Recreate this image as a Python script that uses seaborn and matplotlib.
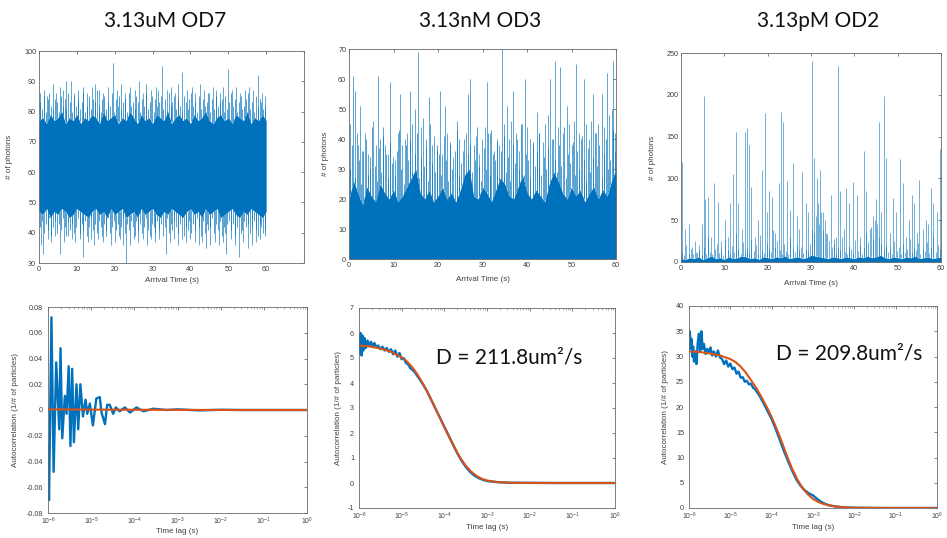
import numpy as np
import pandas as pd
import matplotlib
matplotlib.use("Agg")
import matplotlib.pyplot as plt
import seaborn as sns
from matplotlib.ticker import FixedLocator, NullFormatter

# ---------------- text ----------------
titles = ["3.13uM OD7", "3.13nM OD3", "3.13pM OD2"]
d_labels = ["D = 211.8um\u00b2/s", "D = 209.8um\u00b2/s"]
top_xlabel = "Arrival Time (s)"
top_ylabel = "# of photons"
bot_xlabel = "Time lag (s)"
bot_ylabel = "Autocorrelation (1/# of particles)"
lag_tick_exp = [-6, -5, -4, -3, -2, -1, 0]

# ---------------- top row: photon traces ----------------
core_t = list(range(0, 61))            # 1 s resolution for the dense core of each trace
fringe_t = np.arange(0.25, 60, 0.5)     # 0.5 s resolution for the fringe of each trace

# 3.13uM OD7
tl_core_hi = [77, 78, 76, 79, 77, 78, 80, 76, 78, 77, 79, 76, 78, 77, 79, 78, 76, 80, 77, 78,
              79, 76, 78, 77, 80, 78, 76, 79, 77, 78, 76, 79, 78, 77, 80, 76, 78, 79, 77, 78,
              76, 79, 77, 78, 80, 77, 76, 78, 79, 77, 78, 76, 79, 78, 77, 80, 76, 78, 77, 79, 77]
tl_core_lo = [47, 46, 48, 45, 47, 46, 48, 47, 45, 46, 48, 47, 46, 45, 47, 48, 46, 47, 45, 48,
              46, 47, 48, 45, 46, 47, 45, 48, 46, 47, 48, 46, 45, 47, 46, 48, 47, 46, 45, 47,
              48, 46, 47, 45, 48, 46, 47, 48, 45, 46, 47, 48, 46, 45, 47, 46, 48, 47, 46, 45, 47]
tl_fringe_hi = [83, 81, 85, 80, 84, 86, 82, 81, 84, 83, 80, 85, 82, 84, 81, 86, 83, 80, 85, 82,
                84, 81, 83, 86, 80, 82, 85, 81, 84, 83, 87, 82, 80, 84, 85, 81, 83, 82, 86, 80,
                84, 82, 85, 81, 83, 84, 80, 86, 82, 83, 81, 85, 83, 80, 84, 82, 86, 81, 83, 85,
                80, 84, 82, 83, 85, 81, 84, 80, 86, 82, 83, 85, 81, 84, 82, 80, 85, 83, 81, 84,
                86, 82, 83, 80, 85, 81, 84, 82, 83, 86, 80, 84, 81, 85, 82, 83, 84, 80, 85, 81,
                83, 86, 82, 84, 80, 83, 85, 81, 82, 84, 86, 81, 83, 80, 85, 82, 84, 83, 81, 82]
tl_fringe_lo = [42, 44, 40, 43, 41, 45, 39, 42, 44, 40, 43, 41, 45, 42, 39, 44, 41, 43, 40, 42,
                45, 40, 43, 41, 44, 39, 42, 45, 41, 43, 40, 44, 42, 39, 43, 41, 45, 40, 42, 44,
                41, 43, 39, 42, 45, 40, 43, 41, 44, 42, 39, 44, 41, 43, 40, 42, 45, 41, 39, 43,
                42, 40, 44, 41, 43, 39, 42, 45, 40, 43, 41, 44, 42, 40, 43, 45, 39, 42, 41, 44,
                40, 43, 41, 45, 42, 39, 44, 40, 43, 41, 42, 45, 40, 43, 41, 44, 39, 42, 40, 43,
                44, 41, 43, 39, 42, 45, 40, 41, 44, 42, 43, 40, 42, 44, 41, 39, 43, 42, 40, 41]
tl_up_t = [0.3, 1.2, 2.1, 3.7, 4.5, 5.6, 6.4, 7.2, 8.5, 9.3, 10.4, 11.6, 12.8, 13.9, 14.7,
           15.8, 17.0, 18.2, 19.5, 20.6, 21.7, 22.8, 24.1, 25.3, 26.4, 27.5, 28.3, 29.6,
           30.8, 31.5, 32.5, 33.7, 34.8, 35.9, 36.7, 37.9, 39.0, 40.3, 41.2, 42.4, 43.6,
           44.8, 45.9, 46.8, 47.7, 48.6, 49.9, 51.1, 52.0, 53.2, 54.3, 55.4, 56.5, 57.8,
           58.9, 59.7]
tl_up_v = [86, 87, 85, 89, 86, 88, 87, 90, 90, 86, 87, 88, 86, 88, 89,
           87, 86, 88, 96, 87, 89, 86, 88, 87, 90, 86, 89, 87,
           88, 87, 95, 87, 88, 86, 89, 93, 87, 88, 86, 89, 87,
           86, 88, 87, 86, 88, 94, 87, 88, 86, 87, 88, 87, 92,
           86, 85]
tl_dn_t = [0.4, 1.0, 2.3, 3.2, 4.1, 5.5, 6.6, 7.7, 8.6, 9.6, 10.7, 11.6, 12.9, 13.8, 14.6,
           15.6, 16.9, 17.8, 18.9, 20.1, 21.3, 22.2, 23.0, 24.0, 25.2, 26.1, 27.4, 28.6,
           29.5, 30.7, 31.8, 33.6, 34.7, 35.7, 36.8, 37.8, 38.9, 40.0, 41.1, 42.2, 43.1,
           44.0, 45.3, 46.4, 47.5, 48.7, 49.5, 50.6, 51.7, 52.8, 53.9, 55.2, 56.3, 57.4,
           58.5, 59.6]
tl_dn_v = [36, 33, 38, 37, 39, 33, 37, 39, 38, 37, 38, 32, 37, 38, 36,
           38, 37, 39, 36, 37, 38, 36, 30, 36, 38, 37, 38, 36,
           38, 37, 38, 33, 37, 38, 36, 38, 37, 38, 37, 36, 37,
           35, 36, 37, 36, 37, 33, 38, 36, 32, 37, 35, 36, 37,
           38, 39]

# 3.13nM OD3
tm_core_hi = [20, 26, 22, 18, 24, 21, 19, 25, 22, 20, 23, 19, 21, 24, 27, 30, 22, 20, 23, 19,
              21, 24, 20, 22, 19, 23, 28, 30, 21, 20, 24, 22, 19, 23, 27, 25, 21, 20, 24, 28,
              22, 20, 23, 21, 19, 25, 29, 26, 22, 20, 24, 21, 23, 19, 22, 24, 20, 23, 21, 26, 30]
tm_fringe_hi = [30, 38, 27, 42, 33, 25, 36, 40, 28, 34, 44, 31, 26, 37, 29, 41, 35, 27, 39, 32,
                28, 36, 43, 30, 25, 38, 33, 40, 29, 35, 42, 27, 34, 31, 37, 26, 45, 32, 29, 38,
                35, 28, 41, 33, 26, 39, 30, 36, 43, 28, 32, 40, 27, 35, 38, 29, 33, 44, 31, 26,
                37, 30, 42, 28, 35, 33, 39, 27, 36, 41, 29, 34, 26, 38, 32, 40, 30, 45, 28, 35,
                33, 27, 39, 31, 36, 42, 28, 34, 30, 37, 26, 40, 33, 29, 38, 31, 44, 27, 35, 32,
                39, 28, 36, 30, 41, 33, 26, 37, 29, 34, 42, 31, 38, 27, 35, 40, 30, 33, 43, 36]
tm_up_t = [0.3, 0.9, 1.4, 2.0, 2.4, 3.0, 3.6, 4.2, 4.8, 5.4, 6.0, 6.5, 7.0, 7.6, 8.1, 8.7,
           9.2, 9.8, 10.4, 11.0, 11.4, 12.0, 12.6, 13.1, 13.6, 14.2, 14.8, 15.5, 16.1,
           16.7, 17.3, 18.0, 18.6, 19.2, 19.7, 20.4, 21.0, 21.5, 22.1, 22.7, 23.4, 24.2,
           24.8, 25.6, 26.2, 26.8, 27.3, 28.0, 28.6, 29.3, 29.9, 30.5, 30.9, 31.6, 32.0,
           32.6, 33.2, 33.8, 34.3, 34.9, 35.4, 35.9, 36.4, 36.9, 37.6, 38.2, 38.8, 39.5,
           40.1, 40.7, 41.3, 42.2, 42.8, 43.5, 44.1, 44.7, 45.2, 45.7, 46.3, 46.9, 47.4,
           48.0, 48.9, 49.5, 50.0, 50.5, 51.0, 51.6, 52.1, 52.7, 53.3, 53.9, 54.4, 54.9,
           55.5, 56.0, 56.8, 57.3, 57.9, 58.5, 59.0, 59.4, 59.8]
tm_up_v = [45, 61, 56, 38, 51, 36, 42, 35, 30, 46, 38, 61, 40, 44, 38, 35,
           59, 34, 33, 42, 55, 38, 40, 42, 56, 45, 50, 69, 44,
           47, 40, 54, 38, 41, 36, 56, 35, 51, 42, 38, 34, 46,
           40, 36, 42, 55, 60, 38, 41, 35, 40, 44, 59, 42, 43,
           36, 40, 38, 70, 45, 51, 40, 46, 56, 42, 36, 45, 60,
           44, 40, 38, 49, 42, 39, 45, 48, 60, 40, 66, 44, 64,
           42, 51, 45, 38, 46, 65, 42, 40, 60, 45, 40, 46, 55,
           42, 45, 55, 44, 62, 48, 50, 66, 42]

# 3.13pM OD2
tr_core_hi = [4, 3, 5, 4, 6, 3, 5, 7, 4, 5, 3, 6, 4, 5, 7, 6, 4, 5, 3, 6,
              5, 4, 6, 5, 7, 4, 5, 6, 4, 5, 8, 7, 6, 5, 4, 6, 5, 4, 6, 5,
              4, 6, 5, 7, 5, 6, 8, 5, 4, 6, 5, 4, 6, 5, 7, 4, 5, 6, 4, 5, 6]
tr_fringe_hi = [12, 8, 20, 10, 15, 9, 25, 11, 14, 8, 18, 10, 30, 12, 9, 16, 22, 11, 13, 8,
                28, 14, 10, 19, 12, 35, 15, 9, 24, 11, 17, 10, 26, 13, 20, 9, 32, 14, 11, 22,
                16, 12, 38, 18, 25, 14, 10, 21, 13, 9, 30, 15, 12, 20, 14, 18, 11, 16, 13, 22,
                40, 35, 55, 45, 60, 38, 50, 33, 25, 18, 22, 11, 18, 14, 30, 12, 9, 19, 15, 11,
                26, 13, 20, 10, 17, 35, 24, 42, 28, 50, 45, 30, 22, 14, 19, 12, 16, 10, 25, 13,
                18, 9, 21, 12, 15, 28, 11, 17, 14, 23, 10, 16, 13, 24, 11, 18, 30, 12, 20, 15]
tr_up_t = [0.2, 1.0, 1.9, 2.6, 3.4, 4.2, 4.9, 5.2, 5.6, 6.3, 7.0, 7.7, 8.6, 9.3, 10.2,
           10.9, 11.4, 12.1, 12.8, 13.2, 14.0, 14.8, 15.3, 15.7, 16.1, 17.0, 17.7, 18.6,
           19.3, 19.8, 20.3, 20.9, 21.6, 22.6, 23.1, 23.6, 24.4, 25.1, 25.8, 26.7, 27.3,
           27.9, 28.8, 29.4, 30.3, 30.8, 31.3, 31.7, 32.1, 32.8, 33.5, 34.5, 35.2, 35.8,
           36.3, 36.8, 37.5, 38.1, 38.7, 39.6, 40.6, 41.4, 42.3, 42.8, 43.6, 44.2, 45.0,
           45.6, 46.2, 46.9, 47.4, 48.2, 48.9, 49.6, 50.6, 51.2, 51.9, 52.5, 53.2, 53.7,
           54.4, 55.0, 55.8, 56.5, 57.0, 57.6, 58.2, 59.0, 59.8]
tr_up_v = [120, 40, 45, 18, 12, 20, 45, 198, 75, 78, 30, 95, 72, 25, 50,
           30, 70, 105, 155, 70, 40, 155, 160, 140, 90, 30, 50, 110,
           178, 60, 85, 78, 35, 95, 180, 167, 97, 62, 118, 55, 40,
           108, 70, 60, 240, 125, 100, 70, 110, 60, 35, 80, 28, 30,
           235, 85, 40, 88, 70, 96, 80, 30, 133, 85, 40, 55, 75,
           167, 60, 199, 125, 35, 77, 60, 123, 95, 30, 50, 80, 70,
           35, 98, 40, 50, 45, 88, 70, 60, 135]

# ---------------- bottom row: autocorrelation (log10 lag, value) ----------------
# 3.13uM OD7
bl_exp = [-6.0, -5.977, -5.92, -5.87, -5.81, -5.74, -5.71, -5.67, -5.61, -5.57, -5.52,
          -5.48, -5.44, -5.40, -5.34, -5.30, -5.25, -5.19, -5.13, -5.09, -5.03, -4.96,
          -4.88, -4.80, -4.76, -4.68, -4.63, -4.57, -4.49, -4.43, -4.34, -4.22, -4.10,
          -3.95, -3.79, -3.56, -3.25, -3.0, -2.5, -2.0, -1.5, -1.0, -0.5, 0.0]
bl_val = [-0.028, -0.070, 0.072, -0.048, 0.037, -0.015, 0.048, -0.022, 0.011, -0.003, 0.034,
          -0.028, 0.032, -0.025, 0.020, -0.015, 0.020, -0.005, 0.008, -0.003, 0.005, -0.012,
          0.009, 0.010, -0.002, -0.011, 0.004, 0.004, -0.003, 0.002, -0.001, 0.002, -0.002,
          0.002, -0.001, 0.001, 0.0, 0.0005, -0.0003, 0.0002, 0.0, 0.0, 0.0, 0.0]
bl_fit_exp = [-6, -5, -4, -3, -2, -1, 0]
bl_fit_val = [0.0005, 0.0003, 0.0002, 0.0001, 0.0, 0.0, 0.0]

# 3.13nM OD3
bm_exp = [-6.0, -5.98, -5.96, -5.94, -5.92, -5.90, -5.87, -5.84, -5.80, -5.76, -5.72,
          -5.68, -5.64, -5.60, -5.55, -5.50, -5.45, -5.40, -5.35, -5.30, -5.25, -5.20,
          -5.15, -5.10, -5.05, -5.00, -4.95, -4.90, -4.85, -4.80, -4.70, -4.60, -4.50,
          -4.40, -4.30, -4.20, -4.10, -4.00, -3.90, -3.80, -3.70, -3.60, -3.50, -3.40,
          -3.30, -3.20, -3.10, -3.00, -2.80, -2.60, -2.40, -2.00, -1.50, -1.00, -0.50, 0.0]
bm_val = [5.9, 5.2, 6.0, 5.1, 5.9, 5.3, 5.8, 5.4, 5.7, 5.5, 5.65,
          5.45, 5.6, 5.45, 5.5, 5.35, 5.45, 5.3, 5.4, 5.25, 5.35, 5.15,
          5.3, 5.05, 5.2, 4.95, 5.0, 4.8, 4.75, 4.6, 4.45, 4.2, 3.95,
          3.65, 3.3, 2.95, 2.6, 2.25, 1.9, 1.55, 1.2, 0.9, 0.65, 0.45,
          0.3, 0.2, 0.13, 0.08, 0.04, 0.02, 0.01, 0.005, 0.0, 0.0, 0.0, 0.0]
bm_fit_exp = [-6.0, -5.75, -5.5, -5.25, -5.0, -4.875, -4.75, -4.625, -4.5, -4.375, -4.25,
              -4.125, -4.0, -3.875, -3.75, -3.625, -3.5, -3.375, -3.25, -3.125, -3.0,
              -2.75, -2.5, -2.0, -1.0, 0.0]
bm_fit_val = [5.50, 5.46, 5.38, 5.25, 5.03, 4.86, 4.63, 4.33, 3.97, 3.57, 3.13,
              2.68, 2.23, 1.80, 1.38, 1.00, 0.70, 0.46, 0.29, 0.17, 0.10,
              0.035, 0.012, 0.003, 0.0, 0.0]

# 3.13pM OD2
br_exp = [-6.0, -5.98, -5.96, -5.94, -5.92, -5.90, -5.88, -5.85, -5.82, -5.79, -5.76,
          -5.73, -5.70, -5.67, -5.64, -5.60, -5.56, -5.52, -5.48, -5.44, -5.40, -5.35,
          -5.30, -5.25, -5.20, -5.15, -5.10, -5.05, -5.00, -4.95, -4.90, -4.85, -4.80,
          -4.75, -4.70, -4.65, -4.60, -4.55, -4.50, -4.45, -4.40, -4.30, -4.20, -4.10,
          -4.00, -3.90, -3.80, -3.70, -3.60, -3.50, -3.40, -3.30, -3.20, -3.10, -3.00,
          -2.90, -2.80, -2.70, -2.60, -2.40, -2.20, -2.00, -1.50, -1.00, -0.50, 0.0]
br_val = [33.0, 35.0, 31.5, 33.5, 30.0, 32.0, 29.0, 31.0, 28.5, 32.5, 34.5,
          31.0, 35.0, 31.5, 32.5, 30.5, 31.5, 30.8, 31.8, 30.2, 31.0, 30.0,
          31.2, 29.8, 29.5, 28.5, 29.2, 28.0, 28.6, 27.5, 27.8, 26.6, 27.0,
          25.8, 25.9, 25.0, 25.2, 24.5, 24.6, 23.8, 23.5, 22.3, 20.8, 19.2,
          17.6, 15.6, 13.4, 11.2, 9.2, 7.3, 5.6, 4.4, 3.5, 2.9, 2.5,
          1.8, 1.2, 0.8, 0.5, 0.25, 0.1, 0.05, 0.0, 0.0, 0.0, 0.0]
br_fit_exp = [-6.0, -5.75, -5.5, -5.25, -5.0, -4.875, -4.75, -4.625, -4.5, -4.375, -4.25,
              -4.125, -4.0, -3.875, -3.75, -3.625, -3.5, -3.375, -3.25, -3.125, -3.0,
              -2.875, -2.75, -2.5, -2.25, -2.0, -1.0, 0.0]
br_fit_val = [31.0, 30.9, 30.6, 30.2, 29.5, 28.9, 28.0, 26.8, 25.3, 23.8, 22.0,
              20.1, 18.0, 15.6, 13.0, 10.2, 7.7, 5.6, 3.9, 2.7, 1.8,
              1.2, 0.8, 0.35, 0.13, 0.05, 0.0, 0.0]

# ---------------- styling ----------------
BLUE = "#0072BD"
ORANGE = "#D95319"
TXT = "#404040"

sns.set_style("white")
plt.rcParams["font.family"] = ["Liberation Sans", "DejaVu Sans"]
plt.rcParams["mathtext.fontset"] = "custom"
plt.rcParams["mathtext.rm"] = "Liberation Sans"
plt.rcParams["mathtext.it"] = "Liberation Sans"

W, H = 947, 538
fig = plt.figure(figsize=(W / 100, H / 100), dpi=100)


def add_ax(left, top, right, bottom):
    return fig.add_axes([left / W, 1 - bottom / H, (right - left) / W, (bottom - top) / H])


def style(ax, ylab_x, xlab_y, xlab, ylab, logx=False):
    for s in ax.spines.values():
        s.set_color("#6a6a6a")
        s.set_linewidth(0.6)
        s.set_visible(True)
    ax.tick_params(which="major", direction="in", length=2.5, width=0.5, top=True, right=True,
                   labelsize=5.2, colors="#555555", labelcolor=TXT, pad=2)
    if logx:
        ax.tick_params(axis="x", which="major", labelsize=4.9, pad=2)
        ax.tick_params(axis="y", which="major", pad=3.5)
        ax.tick_params(which="minor", direction="in", length=1.3, width=0.4, top=True,
                       right=False, colors="#777777")
    ax.set_xlabel(xlab, fontsize=5.8, color=TXT)
    ax.set_ylabel(ylab, fontsize=5.8, color=TXT)
    ax.yaxis.set_label_coords(ylab_x, 0.5)
    ax.xaxis.set_label_coords(0.5, xlab_y)
    ax.grid(False)


# --- top panels ---
ax_tl = add_ax(39, 51, 304, 263)
ax_tm = add_ax(349, 49, 616, 259)
ax_tr = add_ax(681, 53, 941, 262)

LW_SPK = 0.55

# top-left
ax_tl.vlines(fringe_t, np.interp(fringe_t, core_t, tl_core_hi), tl_fringe_hi, color=BLUE, lw=LW_SPK, alpha=0.85)
ax_tl.vlines(fringe_t, tl_fringe_lo, np.interp(fringe_t, core_t, tl_core_lo), color=BLUE, lw=LW_SPK, alpha=0.85)
ax_tl.vlines(tl_up_t, np.interp(tl_up_t, core_t, tl_core_hi), tl_up_v, color=BLUE, lw=LW_SPK, alpha=0.8)
ax_tl.vlines(tl_dn_t, tl_dn_v, np.interp(tl_dn_t, core_t, tl_core_lo), color=BLUE, lw=LW_SPK, alpha=0.8)
ax_tl.fill_between(core_t, tl_core_lo, tl_core_hi, color=BLUE, lw=0)
ax_tl.set_xlim(0, 70)
ax_tl.set_ylim(30, 100)
ax_tl.set_xticks(range(0, 71, 10))
ax_tl.set_xticklabels([str(v) for v in range(0, 61, 10)] + [""])
ax_tl.set_yticks(range(30, 101, 10))
style(ax_tl, -0.098, -0.064, top_xlabel, top_ylabel)

# top-middle
zeros61 = [0] * len(core_t)
ax_tm.vlines(fringe_t, np.interp(fringe_t, core_t, tm_core_hi), tm_fringe_hi, color=BLUE, lw=LW_SPK, alpha=0.85)
ax_tm.vlines(tm_up_t, np.interp(tm_up_t, core_t, tm_core_hi), tm_up_v, color=BLUE, lw=LW_SPK, alpha=0.8)
ax_tm.fill_between(core_t, zeros61, tm_core_hi, color=BLUE, lw=0)
ax_tm.set_xlim(0, 60)
ax_tm.set_ylim(0, 70)
ax_tm.set_xticks(range(0, 61, 10))
ax_tm.set_yticks(range(0, 71, 10))
style(ax_tm, -0.075, -0.079, top_xlabel, top_ylabel)

# top-right
ax_tr.vlines(fringe_t, np.interp(fringe_t, core_t, tr_core_hi), tr_fringe_hi, color=BLUE, lw=LW_SPK, alpha=0.7)
ax_tr.vlines(tr_up_t, np.interp(tr_up_t, core_t, tr_core_hi), tr_up_v, color=BLUE, lw=LW_SPK, alpha=0.7)
ax_tr.fill_between(core_t, zeros61, tr_core_hi, color=BLUE, lw=0)
ax_tr.set_xlim(0, 60)
ax_tr.set_ylim(0, 250)
ax_tr.set_xticks(range(0, 61, 10))
ax_tr.set_yticks(range(0, 251, 50))
style(ax_tr, -0.097, -0.084, top_xlabel, top_ylabel)

# --- bottom panels ---
ax_bl = add_ax(48, 307, 307, 513)
ax_bm = add_ax(359, 308, 615, 508)
ax_br = add_ax(689, 306, 937, 508)

lag_ticks = [10.0 ** e for e in lag_tick_exp]
lag_tick_labels = ["$10^{%d}$" % e for e in lag_tick_exp]
lag_minor = [m * 10.0 ** e for e in lag_tick_exp[:-1] for m in range(2, 10)]

bottom = [
    (ax_bl, bl_exp, bl_val, bl_fit_exp, bl_fit_val, (-0.08, 0.08),
     [-0.08, -0.06, -0.04, -0.02, 0, 0.02, 0.04, 0.06, 0.08], -0.112, -0.074),
    (ax_bm, bm_exp, bm_val, bm_fit_exp, bm_fit_val, (-1, 7),
     list(range(-1, 8)), -0.068, -0.078),
    (ax_br, br_exp, br_val, br_fit_exp, br_fit_val, (0, 40),
     list(range(0, 41, 5)), -0.08, -0.078),
]
for ax, ex, va, fex, fva, ylim, yt, ylx, xly in bottom:
    df = pd.DataFrame({"lag": np.power(10.0, ex), "g": va})
    dff = pd.DataFrame({"lag": np.power(10.0, fex), "g": fva})
    sns.lineplot(data=df, x="lag", y="g", ax=ax, color=BLUE, lw=1.7, estimator=None, sort=False)
    sns.lineplot(data=dff, x="lag", y="g", ax=ax, color=ORANGE, lw=1.5, estimator=None, sort=False)
    ax.set_xscale("log")
    ax.set_xlim(1e-6, 1)
    ax.set_ylim(*ylim)
    ax.set_yticks(yt)
    ax.set_yticklabels(["%g" % v for v in yt])
    ax.xaxis.set_major_locator(FixedLocator(lag_ticks))
    ax.set_xticklabels(lag_tick_labels)
    ax.xaxis.set_minor_locator(FixedLocator(lag_minor))
    ax.xaxis.set_minor_formatter(NullFormatter())
    style(ax, ylx, xly, bot_xlabel, bot_ylabel, logx=True)

# --- titles and annotations ---
title_x = [165, 480, 818]
for tx, t in zip(title_x, titles):
    fig.text(tx / W, 1 - 21 / H, t, ha="center", va="center", fontsize=15,
             family=["Lato", "DejaVu Sans"], color="#111111")

ax_bm.text(0.30, 0.75, d_labels[0], transform=ax_bm.transAxes, fontsize=15,
           family=["Lato", "DejaVu Sans"], color="#111111", ha="left", va="center")
ax_br.text(0.35, 0.765, d_labels[1], transform=ax_br.transAxes, fontsize=15,
           family=["Lato", "DejaVu Sans"], color="#111111", ha="left", va="center")

fig.savefig("out.png", dpi=100, facecolor="white")
